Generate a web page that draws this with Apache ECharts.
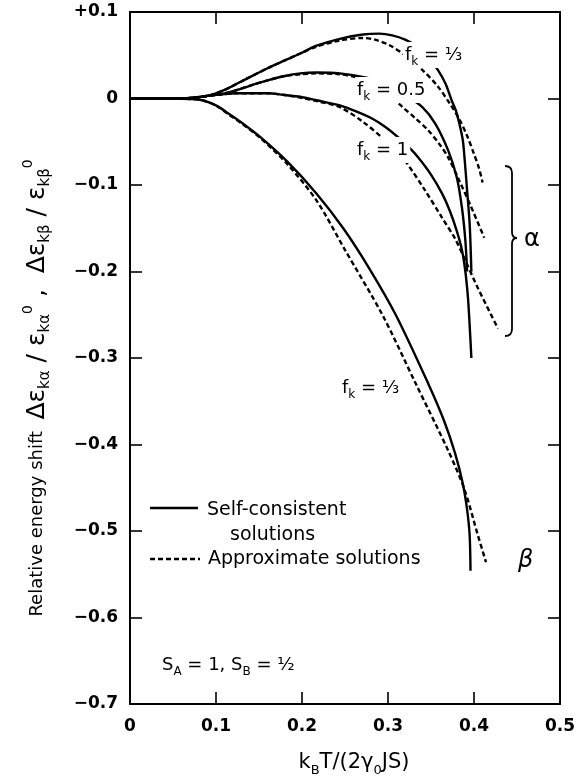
<!DOCTYPE html>
<html>
<head>
<meta charset="utf-8">
<script src="https://cdn.jsdelivr.net/npm/echarts@6.0.0/dist/echarts.min.js"></script>
<style>
  html, body { margin: 0; padding: 0; background: #fff; }
  #chart { width: 578px; height: 780px; }
</style>
</head>
<body>
<div id="chart"></div>
<script>
const FONT = 'DejaVu Sans'

// [k_B T / (2 gamma_0 J S), relative energy shift]
const alphaThirdSelf = [
  [0, 0], [0.05, 0], [0.07, 0.0005], [0.09, 0.003], [0.11, 0.010], [0.13, 0.020],
  [0.16, 0.035], [0.18, 0.044], [0.198, 0.052], [0.217, 0.061], [0.244, 0.069],
  [0.271, 0.074], [0.29, 0.075], [0.305, 0.073], [0.32, 0.068], [0.334, 0.060],
  [0.346, 0.049], [0.358, 0.033], [0.367, 0.017], [0.374, -0.002], [0.379, -0.014],
  [0.383, -0.029], [0.387, -0.048], [0.389, -0.068], [0.392, -0.106], [0.395, -0.145],
  [0.397, -0.200]
]
const alphaThirdApprox = [
  [0, 0], [0.05, 0], [0.07, 0.0005], [0.09, 0.003], [0.11, 0.010], [0.13, 0.020],
  [0.16, 0.035], [0.18, 0.044], [0.198, 0.052], [0.217, 0.060], [0.244, 0.067],
  [0.271, 0.070], [0.285, 0.068], [0.301, 0.062], [0.32, 0.050], [0.341, 0.032],
  [0.358, 0.014], [0.372, -0.006], [0.383, -0.024], [0.392, -0.043], [0.400, -0.064],
  [0.406, -0.081], [0.410, -0.097]
]
const alphaHalfSelf = [
  [0, 0], [0.05, 0], [0.07, 0.0005], [0.09, 0.003], [0.11, 0.006], [0.122, 0.009],
  [0.14, 0.015], [0.16, 0.021], [0.18, 0.026], [0.198, 0.029], [0.217, 0.030],
  [0.244, 0.029], [0.275, 0.024], [0.30, 0.017], [0.32, 0.004], [0.34, -0.010],
  [0.355, -0.029], [0.370, -0.060], [0.380, -0.091], [0.386, -0.126], [0.390, -0.164],
  [0.392, -0.200]
]
const alphaHalfApprox = [
  [0, 0], [0.05, 0], [0.07, 0.0005], [0.09, 0.003], [0.11, 0.006], [0.122, 0.009],
  [0.14, 0.015], [0.16, 0.021], [0.18, 0.026], [0.198, 0.028], [0.217, 0.029],
  [0.244, 0.028], [0.265, 0.024], [0.283, 0.017], [0.30, 0.005], [0.317, -0.010],
  [0.332, -0.023], [0.347, -0.037], [0.36, -0.053], [0.370, -0.068], [0.383, -0.095],
  [0.397, -0.126], [0.412, -0.161]
]
const alphaOneSelf = [
  [0, 0], [0.05, 0], [0.07, 0.0005], [0.09, 0.003], [0.11, 0.005], [0.122, 0.006],
  [0.16, 0.006], [0.18, 0.004], [0.198, 0.002], [0.217, -0.002], [0.244, -0.008],
  [0.263, -0.015], [0.283, -0.024], [0.297, -0.033], [0.312, -0.045], [0.324, -0.056],
  [0.335, -0.068], [0.35, -0.088], [0.363, -0.110], [0.372, -0.130], [0.38, -0.153],
  [0.386, -0.175], [0.390, -0.200], [0.393, -0.230], [0.395, -0.262], [0.397, -0.300]
]
const alphaOneApprox = [
  [0, 0], [0.05, 0], [0.07, 0.0005], [0.09, 0.003], [0.11, 0.005], [0.122, 0.006],
  [0.16, 0.006], [0.18, 0.004], [0.198, 0.001], [0.217, -0.003], [0.244, -0.010],
  [0.271, -0.027], [0.294, -0.046], [0.31, -0.061], [0.320, -0.072], [0.343, -0.106],
  [0.363, -0.138], [0.378, -0.162], [0.389, -0.185], [0.404, -0.218], [0.428, -0.266]
]
const betaThirdSelf = [
  [0, 0], [0.05, 0], [0.07, -0.0005], [0.084, -0.002], [0.10, -0.008], [0.114, -0.017],
  [0.13, -0.028], [0.152, -0.045], [0.183, -0.073], [0.217, -0.110], [0.248, -0.150],
  [0.278, -0.196], [0.309, -0.250], [0.347, -0.330], [0.365, -0.372], [0.378, -0.410],
  [0.387, -0.445], [0.392, -0.475], [0.395, -0.505], [0.396, -0.546]
]
const betaThirdApprox = [
  [0, 0], [0.05, 0], [0.07, -0.0005], [0.084, -0.002], [0.10, -0.008], [0.114, -0.018],
  [0.13, -0.029], [0.152, -0.046], [0.183, -0.076], [0.217, -0.118], [0.25, -0.175],
  [0.294, -0.251], [0.332, -0.329], [0.370, -0.407], [0.389, -0.452], [0.404, -0.503],
  [0.414, -0.536]
]

const chart = echarts.init(document.getElementById('chart'))

function curve(name, data, dashed) {
  return {
    name,
    type: 'line',
    data,
    symbol: 'none',
    smooth: 0.3,
    silent: true,
    lineStyle: { color: '#000', width: 2.4, type: dashed ? [5, 3] : 'solid' }
  }
}

const axisLine = { show: true, onZero: false, lineStyle: { color: '#000', width: 2 } }
const axisTick = { show: true, inside: true, length: 12, lineStyle: { color: '#000', width: 1.6 } }
const tickFont = { color: '#000', fontFamily: FONT, fontSize: 17, fontWeight: 'bold' }

function yLabel(v) {
  if (Math.abs(v) < 1e-9) return '0'
  return (v > 0 ? '+' : '\u2212') + Math.abs(v).toFixed(1)
}

const m = { fontFamily: FONT, fontSize: 18, lineHeight: 26, verticalAlign: 'middle', color: '#000' }
const s = { fontFamily: FONT, fontSize: 12, lineHeight: 12, verticalAlign: 'bottom', color: '#000' }

function note(x, y, text, bg) {
  return {
    type: 'text', x, y, z: 100,
    style: {
      text, rich: { m, s }, verticalAlign: 'middle',
      backgroundColor: bg ? '#fff' : 'transparent', padding: [0, 2]
    }
  }
}

const ink = { stroke: '#000', lineWidth: 1.8, fill: null }
const keyFont = '19px "DejaVu Sans"'

const option = {
  backgroundColor: '#fff',
  animation: false,
  grid: { left: 130, right: 11, top: 12, bottom: 76 },
  xAxis: [
    {
      type: 'value', min: 0, max: 0.5, interval: 0.1, position: 'bottom',
      axisLine, axisTick, splitLine: { show: false },
      axisLabel: { ...tickFont, margin: 14, formatter: v => v === 0 ? '0' : v.toFixed(1) }
    },
    {
      type: 'value', min: 0, max: 0.5, interval: 0.1, position: 'top',
      axisLine, axisTick, splitLine: { show: false }, axisLabel: { show: false }
    }
  ],
  yAxis: [
    {
      type: 'value', min: -0.7, max: 0.1, interval: 0.1, position: 'left',
      axisLine, axisTick, splitLine: { show: false },
      axisLabel: { ...tickFont, margin: 12, formatter: yLabel }
    },
    {
      type: 'value', min: -0.7, max: 0.1, interval: 0.1, position: 'right',
      axisLine, axisTick, splitLine: { show: false }, axisLabel: { show: false }
    }
  ],
  series: [
    curve('Self-consistent', alphaThirdSelf, false),
    curve('Approximate', alphaThirdApprox, true),
    curve('Self-consistent', alphaHalfSelf, false),
    curve('Approximate', alphaHalfApprox, true),
    curve('Self-consistent', alphaOneSelf, false),
    curve('Approximate', alphaOneApprox, true),
    curve('Self-consistent', betaThirdSelf, false),
    curve('Approximate', betaThirdApprox, true)
  ],
  graphic: [
    note(403, 55, '{m|f}{s|k}{m| = \u2153}', true),
    note(355, 90, '{m|f}{s|k}{m| = 0.5}', true),
    note(355, 150, '{m|f}{s|k}{m| = 1}', true),
    note(340, 388, '{m|f}{s|k}{m| = \u2153}', true),
    note(160, 665, '{m|S}{s|A}{m| = 1, S}{s|B}{m| = \u00bd}', false),
    {
      type: 'text', x: 354, y: 763, z: 100,
      style: {
        text: '{m|k}{s|B}{m|T/(2\u03b3}{s|0}{m|JS)}', align: 'center', verticalAlign: 'middle',
        rich: { m: { ...m, fontSize: 21, lineHeight: 28 }, s: { ...s, fontSize: 13 } }
      }
    },
    {
      type: 'text', x: 37, y: 388, rotation: Math.PI / 2, z: 100,
      style: {
        text: '{r|Relative energy shift  }{g|\u0394\u03b5}{s|k\u03b1}{g| / \u03b5}{s|k\u03b1}{p|0}{g| ,  \u0394\u03b5}{s|k\u03b2}{g| / \u03b5}{s|k\u03b2}{p|0}',
        align: 'center', verticalAlign: 'middle',
        rich: {
          r: { fontFamily: FONT, fontSize: 18, lineHeight: 32, verticalAlign: 'middle', color: '#000' },
          g: { fontFamily: FONT, fontSize: 25, lineHeight: 32, verticalAlign: 'middle', color: '#000' },
          s: { fontFamily: FONT, fontSize: 15, lineHeight: 14, verticalAlign: 'bottom', color: '#000' },
          p: { fontFamily: FONT, fontSize: 14, lineHeight: 13, verticalAlign: 'top', color: '#000' }
        }
      }
    },
    // key
    { type: 'line', z: 100, shape: { x1: 150, y1: 508, x2: 198, y2: 508 }, style: { stroke: '#000', lineWidth: 2.4 } },
    { type: 'line', z: 100, shape: { x1: 150, y1: 559, x2: 200, y2: 559 }, style: { stroke: '#000', lineWidth: 2.4, lineDash: [5, 3] } },
    { type: 'text', x: 207, y: 510, z: 100, style: { text: 'Self-consistent', font: keyFont, fill: '#000', verticalAlign: 'middle' } },
    { type: 'text', x: 230, y: 535, z: 100, style: { text: 'solutions', font: keyFont, fill: '#000', verticalAlign: 'middle' } },
    { type: 'text', x: 208, y: 559, z: 100, style: { text: 'Approximate solutions', font: keyFont, fill: '#000', verticalAlign: 'middle' } },
    // alpha bracket
    { type: 'bezierCurve', z: 100, shape: { x1: 505, y1: 166, cpx1: 512, cpy1: 166, x2: 512, y2: 173 }, style: ink },
    { type: 'line', z: 100, shape: { x1: 512, y1: 173, x2: 512, y2: 232 }, style: ink },
    { type: 'bezierCurve', z: 100, shape: { x1: 512, y1: 232, cpx1: 512, cpy1: 238, x2: 517, y2: 238 }, style: ink },
    { type: 'bezierCurve', z: 100, shape: { x1: 517, y1: 238, cpx1: 512, cpy1: 238, x2: 512, y2: 244 }, style: ink },
    { type: 'line', z: 100, shape: { x1: 512, y1: 244, x2: 512, y2: 329 }, style: ink },
    { type: 'bezierCurve', z: 100, shape: { x1: 512, y1: 329, cpx1: 512, cpy1: 336, x2: 505, y2: 336 }, style: ink },
    { type: 'text', x: 524, y: 240, z: 100, style: { text: '\u03b1', font: '24px "DejaVu Sans"', fill: '#000', verticalAlign: 'middle' } },
    { type: 'text', x: 518, y: 561, z: 100, style: { text: '\u03b2', font: 'italic 24px "DejaVu Sans"', fill: '#000', verticalAlign: 'middle' } }
  ]
}

chart.setOption(option)
</script>
</body>
</html>
